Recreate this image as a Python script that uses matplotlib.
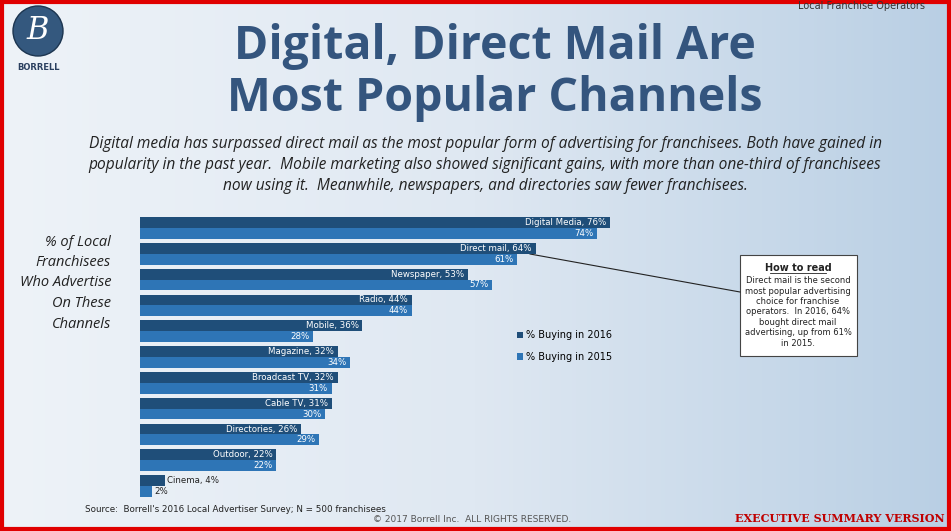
import numpy as np
import matplotlib.pyplot as plt
from matplotlib.patches import Rectangle, Ellipse

channels = ["Digital Media", "Direct mail", "Newspaper", "Radio", "Mobile", "Magazine",
            "Broadcast TV", "Cable TV", "Directories", "Outdoor", "Cinema"]
buy_2016 = [76, 64, 53, 44, 36, 32, 32, 31, 26, 22, 4]
buy_2015 = [74, 61, 57, 44, 28, 34, 31, 30, 29, 22, 2]

C16 = "#1f4e79"
C15 = "#2e75b6"
W, H = 951, 531

fig = plt.figure(figsize=(9.51, 5.31), dpi=100)

# background gradient
bg = fig.add_axes([0, 0, 1, 1])
grad = np.linspace(0, 1, 256)[None, :]
bg.imshow(grad, aspect="auto", cmap=plt.matplotlib.colors.LinearSegmentedColormap.from_list(
    "g", ["#eef3f8", "#dfe8f2", "#b9cfe4"]), extent=[0, 1, 0, 1])
bg.set_xlim(0, 1); bg.set_ylim(0, 1); bg.axis("off")
bg.add_patch(Rectangle((0.002, 0.003), 0.996, 0.994, fill=False, ec="#e00000", lw=3))

def fx(px): return px / W
def fy(py): return 1 - py / H

# logo
bg.add_patch(Ellipse((fx(38), fy(31)), 50 / W, 50 / H, fc="#34587e", ec="#1c3550", lw=1))
bg.text(fx(38), fy(31), "B", color="white", fontsize=22, style="italic", ha="center", va="center", family="DejaVu Serif")
bg.text(fx(38), fy(68), "BORRELL", color="#2a3f5f", fontsize=6, weight="bold", ha="center", va="center")
bg.text(fx(925), fy(6), "Local Franchise Operators", fontsize=7, color="#333", ha="right", va="center")

bg.text(fx(495), fy(47), "Digital, Direct Mail Are", fontsize=33.5, weight="bold", color="#34557e",
        ha="center", va="center", family="Open Sans")
bg.text(fx(495), fy(99), "Most Popular Channels", fontsize=33.5, weight="bold", color="#34557e",
        ha="center", va="center", family="Open Sans")
sub = ("Digital media has surpassed direct mail as the most popular form of advertising for franchisees. Both have gained in\n"
       "popularity in the past year.  Mobile marketing also showed significant gains, with more than one-third of franchisees\n"
       "now using it.  Meanwhile, newspapers, and directories saw fewer franchisees.")
bg.text(fx(485), fy(165), sub, fontsize=11.2, style="italic", color="#222", ha="center", va="center",
        linespacing=1.4, family="Open Sans")

bg.text(fx(111), fy(283), "% of Local\nFranchisees\nWho Advertise\nOn These\nChannels", fontsize=10.5,
        style="italic", color="#222", ha="right", va="center", linespacing=1.5, family="Open Sans")

# chart
ax = fig.add_axes([fx(140), fy(499), 618 / W, (499 - 215) / H])
n = len(channels)
y = np.arange(n)
h = 0.42
ax.barh(y - h / 2, buy_2016, height=h, color=C16, label="% Buying in 2016")
ax.barh(y + h / 2, buy_2015, height=h, color=C15, label="% Buying in 2015")
for i in range(n):
    if buy_2016[i] > 10:
        ax.text(buy_2016[i] - 0.6, y[i] - h / 2, f"{channels[i]}, {buy_2016[i]}%", color="white",
                fontsize=6.2, ha="right", va="center")
        ax.text(buy_2015[i] - 0.6, y[i] + h / 2, f"{buy_2015[i]}%", color="white",
                fontsize=6.2, ha="right", va="center")
    else:
        ax.text(buy_2016[i] + 0.3, y[i] - h / 2, f"{channels[i]}, {buy_2016[i]}%", color="#222",
                fontsize=6.2, ha="left", va="center")
        ax.text(buy_2015[i] + 0.3, y[i] + h / 2, f"{buy_2015[i]}%", color="#222",
                fontsize=6.2, ha="left", va="center")
ax.set_xlim(0, 100)
ax.set_ylim(n - 0.5, -0.5)
ax.axis("off")
ax.legend(loc="upper left", bbox_to_anchor=((508 - 140) / 618, 0.625), frameon=False, fontsize=7,
          handlelength=0.6, handleheight=0.6, handletextpad=0.3, labelspacing=1.2)

# callout
bg.plot([fx(530), fx(740)], [fy(254), fy(292)], color="#222", lw=0.8)
bg.add_patch(Rectangle((fx(740), fy(356)), (857 - 740) / W, (356 - 255) / H, fc="white", ec="#444", lw=0.8))
bg.text(fx(798), fy(268), "How to read", fontsize=7, weight="bold", color="#222", ha="center", va="center")
bg.plot([fx(770), fx(826)], [fy(273), fy(273)], color="#222", lw=0.6)
bg.text(fx(798), fy(312), "Direct mail is the second\nmost popular advertising\nchoice for franchise\noperators.  In 2016, 64%\nbought direct mail\nadvertising, up from 61%\nin 2015.",
        fontsize=6, color="#222", ha="center", va="center", linespacing=1.2)

bg.text(fx(85), fy(510), "Source:  Borrell's 2016 Local Advertiser Survey; N = 500 franchisees", fontsize=6.3, color="#222", va="center")
bg.text(fx(472), fy(519), "© 2017 Borrell Inc.  ALL RIGHTS RESERVED.", fontsize=6.5, color="#555", ha="center", va="center")
bg.text(fx(945), fy(519), "EXECUTIVE SUMMARY VERSION", fontsize=8, color="#c00000", weight="bold",
        ha="right", va="center", family="DejaVu Serif")

fig.savefig("out.png", dpi=100)
